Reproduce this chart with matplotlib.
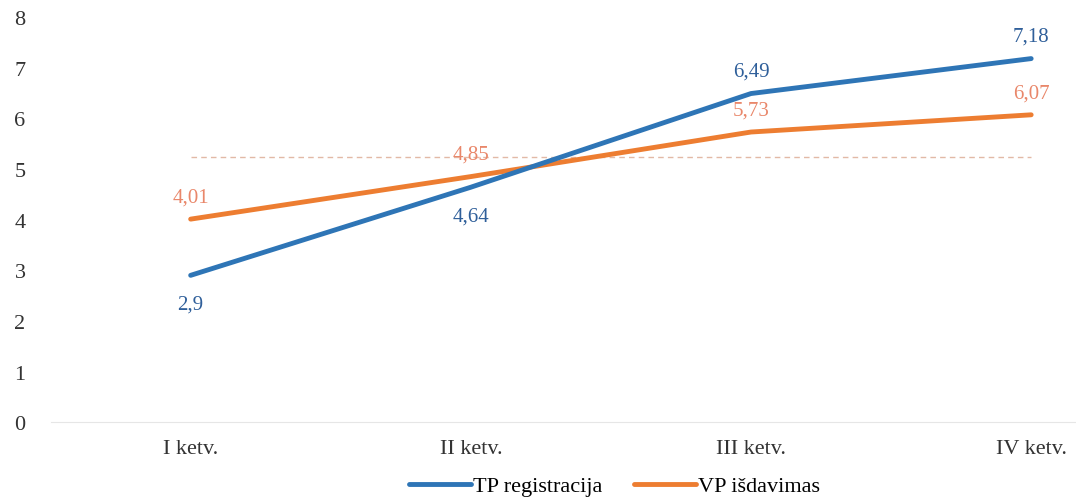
import matplotlib.pyplot as plt

quarters = ["I ketv.", "II ketv.", "III ketv.", "IV ketv."]
tp_registracija = [2.9, 4.64, 6.49, 7.18]
vp_isdavimas = [4.01, 4.85, 5.73, 6.07]
reference_level = 5.23

plt.rcParams['font.family'] = ['Liberation Serif', 'DejaVu Serif']

fig = plt.figure(figsize=(10.76, 5.02), dpi=100)
ax = fig.add_axes([0.047, 0.157, 0.953, 0.807])

blue = "#2E75B6"
orange = "#ED7D31"
x = list(range(len(quarters)))

ax.plot(x, [reference_level] * len(x), linestyle=(0, (4, 3)), color="#E2B9A6", linewidth=1.0, zorder=1)
ax.plot(x, tp_registracija, color=blue, linewidth=3.5, solid_capstyle="round", label="TP registracija", zorder=3)
ax.plot(x, vp_isdavimas, color=orange, linewidth=3.5, solid_capstyle="round", label="VP išdavimas", zorder=2)

fmt = lambda v: ("%g" % v).replace(".", ",")
for i, v in enumerate(tp_registracija):
    dy = -21 if i < 2 else 16
    ax.annotate(fmt(v), (i, v), textcoords="offset points", xytext=(0, dy),
                ha="center", va="center", color="#2F5F9A", fontsize=15)
for i, v in enumerate(vp_isdavimas):
    ax.annotate(fmt(v), (i, v), textcoords="offset points", xytext=(0, 16),
                ha="center", va="center", color="#E9876A", fontsize=15)

ax.set_xlim(-0.5, 3.16)
ax.set_ylim(0, 8)
ax.set_xticks(x)
ax.set_xticklabels(quarters, fontsize=16, color="#333333")
ax.set_yticks(range(0, 9))
ax.tick_params(axis="both", length=0, labelsize=16, labelcolor="#333333")
ax.tick_params(axis="x", pad=12)
ax.tick_params(axis="y", pad=18)
for side in ["top", "right", "left"]:
    ax.spines[side].set_visible(False)
ax.spines["bottom"].set_color("#E6E6E6")

ax.legend(loc="center", bbox_to_anchor=(0.55, -0.158), ncol=2, frameon=False,
          fontsize=16, handlelength=2.8, columnspacing=1.4, handletextpad=0.1)

fig.savefig("out.png", dpi=100)
